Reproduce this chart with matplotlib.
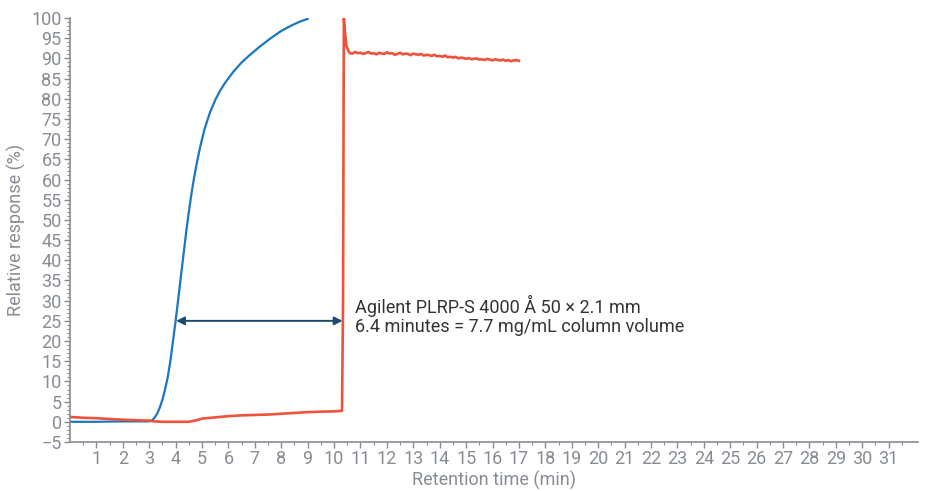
import matplotlib.pyplot as plt

plt.rcParams['font.family'] = ['Roboto', 'DejaVu Sans']

# curva azul (frente de saturação)
tempo_azul = [0, 1, 2, 3, 3.1, 3.2, 3.3, 3.4, 3.5, 3.6, 3.7, 3.8, 3.9, 4.0, 4.1, 4.2,
              4.3, 4.4, 4.5, 4.6, 4.7, 4.8, 4.9, 5.0, 5.1, 5.3, 5.5, 5.7, 5.9, 6.2,
              6.5, 6.8, 7.2, 7.6, 8.0, 8.4, 8.7, 9.0]
resp_azul = [0.0, 0.0, 0.1, 0.1, 0.3, 1.0, 2.0, 3.5, 5.5, 8.0, 11.0, 15.0, 20.0, 25.0,
             30.5, 36.0, 41.5, 47.0, 52.0, 56.5, 60.5, 64.0, 67.2, 70.0, 72.6, 76.6,
             79.7, 82.2, 84.2, 86.8, 89.0, 90.8, 93.0, 95.0, 96.8, 98.2, 99.1, 99.8]

# curva vermelha
tempo_verm = [0, 0.5, 1, 1.5, 2, 2.5, 3, 3.2, 3.5, 4, 4.5, 4.8, 5, 5.5, 6, 6.5, 7, 7.5,
              8, 8.5, 9, 9.5, 10, 10.3, 10.34, 10.37, 10.42, 10.47, 10.55,
              10.6, 10.7, 10.8, 10.9, 11.0, 11.1, 11.2, 11.3, 11.4, 11.5, 11.6, 11.7,
              11.8, 11.9, 12.0, 12.1, 12.2, 12.3, 12.4, 12.5, 12.6, 12.7, 12.8, 12.9,
              13.0, 13.1, 13.2, 13.3, 13.4, 13.5, 13.6, 13.7, 13.8, 13.9, 14.0, 14.1,
              14.2, 14.3, 14.4, 14.5, 14.6, 14.7, 14.8, 14.9, 15.0, 15.1, 15.2, 15.3,
              15.4, 15.5, 15.6, 15.7, 15.8, 15.9, 16.0, 16.1, 16.2, 16.3, 16.4, 16.5,
              16.6, 16.7, 16.8, 16.9, 17.0]
resp_verm = [1.2, 1.0, 0.9, 0.7, 0.5, 0.4, 0.3, 0.1, 0.0, 0.0, 0.0, 0.4, 0.8, 1.1, 1.4,
             1.6, 1.7, 1.8, 2.0, 2.2, 2.4, 2.5, 2.6, 2.7, 30.0, 100.0, 96.0, 93.0, 91.8,
             91.3, 91.2, 91.6, 91.3, 91.4, 91.1, 91.3, 91.6, 91.2, 91.3, 91.0, 91.4,
             91.2, 91.1, 91.5, 91.2, 91.3, 90.9, 91.1, 91.4, 91.0, 91.2, 91.1, 90.8,
             91.2, 91.0, 90.9, 91.1, 90.7, 90.9, 90.8, 90.6, 90.9, 90.5, 90.6, 90.4,
             90.7, 90.3, 90.4, 90.2, 90.4, 90.0, 90.2, 90.1, 89.9, 90.1, 89.8, 89.9,
             90.0, 89.7, 89.8, 89.6, 89.9, 89.7, 89.5, 89.8, 89.6, 89.5, 89.7, 89.4,
             89.6, 89.3, 89.5, 89.6, 89.4]

cinza = '#878c94'

fig = plt.figure(figsize=(9.27, 4.91), dpi=100)
ax = fig.add_axes([0.0755, 0.0998, 0.9145, 0.8635])

ax.plot(tempo_azul, resp_azul, color='#1c76c0', lw=1.6)
ax.plot(tempo_verm, resp_verm, color='#f0513a', lw=1.9)

# seta de largura da frente
ax.annotate('', xy=(4.02, 25), xytext=(10.32, 25),
            arrowprops=dict(arrowstyle='<|-|>', color='#1d4a6b', lw=1.4,
                            mutation_scale=12, shrinkA=0, shrinkB=0))
ax.text(10.8, 28.7, 'Agilent PLRP-S 4000 Å 50 × 2.1 mm', fontsize=13,
        color='#333333', va='center')
ax.text(10.8, 23.5, '6.4 minutes = 7.7 mg/mL column volume', fontsize=13,
        color='#333333', va='center')

ax.set_xlim(0, 32.1)
ax.set_ylim(-5, 100)
ax.set_xticks(range(1, 32))
ax.set_xticks([i + 0.5 for i in range(32)], minor=True)
ax.set_yticks(range(-5, 101, 5))
ax.set_yticks(range(-5, 101), minor=True)

for s in ['top', 'right']:
    ax.spines[s].set_visible(False)
for s in ['left', 'bottom']:
    ax.spines[s].set_color(cinza)
    ax.spines[s].set_linewidth(1.2)

ax.tick_params(which='major', length=4, width=1, color=cinza, labelcolor=cinza,
               labelsize=13, pad=2)
ax.tick_params(which='minor', length=2, width=0.8, color=cinza)

ax.set_xlabel('Retention time (min)', fontsize=13, color=cinza, labelpad=2)
ax.set_ylabel('Relative response (%)', fontsize=13, color=cinza, labelpad=4)

fig.savefig('out.png', dpi=100)
